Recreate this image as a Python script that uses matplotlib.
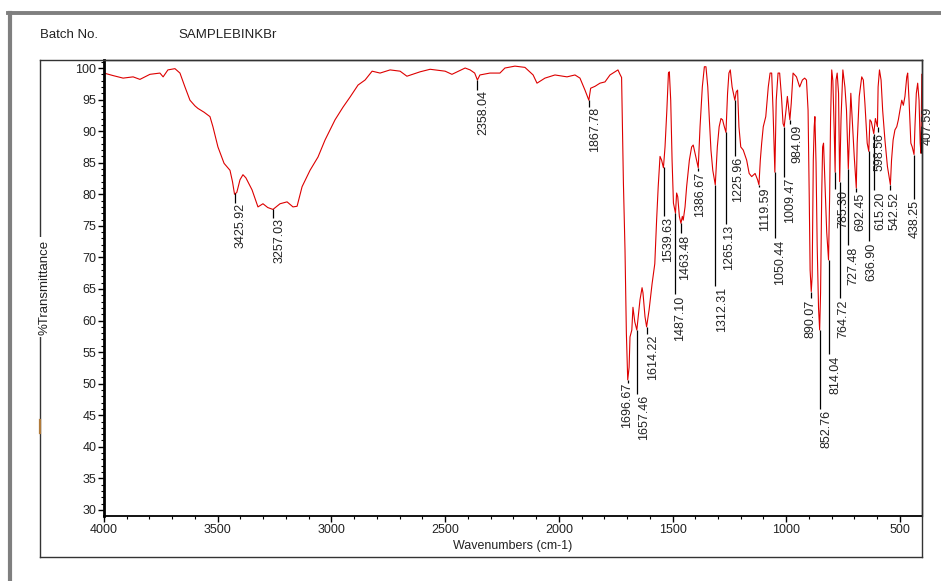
import matplotlib
matplotlib.use("Agg")
import matplotlib.pyplot as plt
from matplotlib.lines import Line2D
from matplotlib.ticker import MultipleLocator

plt.rcParams['font.family'] = ['Liberation Sans', 'DejaVu Sans']

# spectrum: wavenumber (cm-1) and %T
wavenumber = [
    4000, 3960, 3916, 3872, 3842, 3798, 3754, 3740, 3719, 3688, 3666, 3644,
    3622, 3600, 3587, 3560, 3534, 3521, 3499, 3472, 3446, 3435, 3426, 3416,
    3402, 3389, 3376, 3349, 3323, 3301, 3280, 3257, 3226, 3195, 3169, 3151,
    3129, 3094, 3059, 3028, 2984, 2949, 2918, 2883, 2852, 2821, 2786, 2742,
    2698, 2668, 2610, 2566, 2500, 2470, 2412, 2390, 2370, 2358, 2347, 2303,
    2259, 2237, 2193, 2149, 2113, 2096, 2061, 2017, 1964, 1929, 1907, 1885,
    1868, 1860, 1841, 1819, 1797, 1775, 1753, 1740, 1731, 1724, 1716, 1709,
    1703, 1697, 1691, 1687, 1679, 1674, 1666, 1657, 1643, 1634, 1630, 1621,
    1614, 1603, 1590, 1578, 1570, 1563, 1555, 1548, 1540, 1533, 1525, 1518,
    1514, 1508, 1502, 1496, 1487, 1482, 1477, 1470, 1463, 1457, 1453, 1445,
    1438, 1426, 1416, 1409, 1398, 1387, 1379, 1369, 1360, 1353, 1345, 1338,
    1331, 1323, 1312, 1303, 1295, 1287, 1280, 1273, 1265, 1258, 1252, 1246,
    1238, 1226, 1220, 1214, 1208, 1200, 1189, 1174, 1163, 1152, 1137, 1126,
    1120, 1114, 1108, 1101, 1090, 1079, 1071, 1064, 1058, 1050, 1044, 1036,
    1029, 1021, 1014, 1009, 1001, 995, 984, 978, 970, 955, 941, 929,
    919, 911, 904, 899, 895, 890, 886, 881, 877, 874, 869, 864,
    858, 853, 849, 844, 840, 836, 830, 822, 814, 809, 805, 800,
    795, 789, 785, 781, 776, 770, 765, 759, 751, 742, 735, 727,
    716, 708, 701, 692, 688, 679, 668, 661, 654, 649, 644, 637,
    632, 626, 615, 608, 599, 596, 590, 583, 576, 566, 555, 542,
    537, 530, 522, 514, 507, 500, 492, 485, 478, 470, 466, 460,
    452, 446, 438, 434, 428, 422, 416, 411, 407.6, 404,
]
transmittance = [
    99.2, 98.8, 98.4, 98.6, 98.2, 99.0, 99.2, 98.6, 99.7, 99.9, 99.2, 97.0,
    94.9, 94.0, 93.6, 93.0, 92.3, 90.7, 87.5, 84.9, 83.8, 82.0, 80.0, 80.3,
    82.3, 83.1, 82.6, 80.7, 78.0, 78.5, 77.9, 77.6, 78.5, 78.8, 78.0, 78.1,
    81.2, 83.8, 85.9, 88.6, 91.8, 93.8, 95.4, 97.3, 98.1, 99.5, 99.2, 99.7,
    99.5, 98.7, 99.4, 99.8, 99.5, 99.0, 100.0, 99.7, 99.2, 98.1, 98.9, 99.2,
    99.2, 100.0, 100.3, 100.1, 98.9, 97.6, 98.4, 98.9, 98.6, 98.9, 98.4, 96.5,
    94.9, 96.8, 97.1, 97.6, 97.8, 98.9, 99.4, 99.7, 99.0, 98.5, 81.8, 71.2,
    58.0, 50.6, 52.6, 57.4, 58.5, 62.1, 59.8, 58.5, 63.3, 65.2, 64.4, 60.6,
    59.0, 61.7, 65.8, 69.0, 75.9, 81.2, 86.0, 85.4, 84.2, 87.5, 93.3, 99.2,
    99.4, 94.9, 85.4, 78.6, 77.0, 80.2, 79.6, 76.5, 75.4, 76.5, 75.9, 78.0,
    81.2, 85.4, 87.5, 87.8, 86.0, 84.2, 90.7, 97.0, 100.2, 100.2, 97.0, 91.8,
    87.0, 83.8, 81.5, 87.5, 90.7, 92.0, 91.8, 90.8, 89.8, 96.0, 99.2, 99.7,
    97.0, 94.9, 96.2, 96.5, 90.7, 87.5, 87.0, 85.4, 83.3, 82.8, 83.3, 82.3,
    81.5, 85.4, 88.1, 90.7, 92.3, 97.0, 99.2, 99.2, 93.3, 83.5, 94.9, 99.2,
    99.2, 95.5, 91.2, 90.7, 93.3, 95.5, 91.8, 94.4, 99.2, 98.6, 97.0, 98.1,
    98.4, 98.1, 93.3, 80.0, 68.0, 64.6, 67.0, 85.4, 90.7, 92.3, 85.0, 72.0,
    62.0, 58.5, 64.4, 80.0, 87.5, 88.1, 82.0, 74.0, 69.6, 80.0, 92.0, 99.7,
    98.0, 90.0, 83.5, 98.1, 99.2, 96.0, 82.0, 92.0, 99.7, 97.0, 93.3, 84.0,
    96.0, 90.7, 86.0, 81.0, 88.1, 95.5, 98.6, 98.1, 94.4, 91.3, 88.1, 86.8,
    91.8, 91.5, 89.6, 92.0, 90.7, 97.0, 99.7, 98.1, 93.3, 88.6, 84.4, 81.5,
    85.4, 88.6, 90.2, 90.7, 91.8, 93.3, 94.9, 94.1, 95.5, 98.6, 99.2, 94.9,
    88.1, 87.5, 86.3, 90.7, 96.0, 97.6, 94.9, 88.1, 86.5, 99.0,
]

# peak picks
peak_labels = [
    '3425.92', '3257.03', '2358.04', '1867.78', '1696.67', '1657.46',
    '1614.22', '1539.63', '1487.10', '1463.48', '1386.67', '1312.31',
    '1265.13', '1225.96', '1119.59', '1050.44', '1009.47', '984.09',
    '890.07', '852.76', '814.04', '785.30', '764.72', '727.48',
    '692.45', '636.90', '615.20', '598.56', '542.52', '438.25', '407.59',
]
peak_pos = [float(s) for s in peak_labels]
# %T at the dip, and %T where the leader line stops / the text begins
peak_dip = [
    80.2, 77.6, 98.1, 94.9, 50.6, 58.5, 59.0, 84.4, 77.0, 75.4, 84.2, 81.5,
    89.8, 94.9, 81.5, 83.5, 90.7, 91.8, 64.6, 58.5, 69.6, 83.5, 82.0, 84.0,
    81.0, 86.8, 89.6, 90.7, 81.5, 86.3, 86.5,
]
leader_end = [
    78.6, 76.2, 96.5, 93.8, 50.1, 48.4, 57.9, 76.6, 64.2, 73.8, 83.7, 65.5,
    75.3, 86.1, 81.2, 73.0, 82.8, 91.2, 63.5, 46.0, 54.7, 80.9, 63.5, 71.9,
    80.4, 72.6, 80.6, 89.9, 80.6, 79.3, 90.2,
]
label_top = [
    78.6, 76.2, 96.5, 93.8, 50.1, 48.2, 57.7, 76.4, 64.0, 73.6, 83.5, 65.3,
    75.1, 85.9, 81.0, 72.8, 82.6, 91.0, 63.3, 45.8, 54.5, 80.7, 63.3, 71.7,
    80.2, 72.4, 80.4, 89.7, 80.4, 79.1, 93.8,
]
label_x = [
    3398, 3230, 2333, 1841, 1700, 1625, 1586, 1520, 1467, 1445, 1379, 1282,
    1252, 1212, 1093, 1027, 983, 953, 895, 821, 785, 750, 748, 706,
    675, 627, 588, 592, 522, 434, 376,
]

fig = plt.figure(figsize=(9.41, 5.81), dpi=100)
fig.patch.set_facecolor('white')

# grey scan border and the thin frame round the report
fig.add_artist(Line2D([8 / 941, 1], [0.9768, 0.9768], color='#7f7f7f', lw=2.8))
fig.add_artist(Line2D([10 / 941, 10 / 941], [0, 0.9768], color='#7f7f7f', lw=3.0))
bx0, bx1 = 40 / 941, 922 / 941
by0, by1 = (581 - 557) / 581, (581 - 60) / 581
for xs, ys in [([bx0, bx1], [by1, by1]), ([bx0, bx1], [by0, by0]),
               ([bx0, bx0], [by0, by1]), ([bx1, bx1], [by0, by1])]:
    fig.add_artist(Line2D(xs, ys, color='#333333', lw=1.0))
fig.add_artist(Line2D([bx0, bx0], [(581 - 433) / 581, (581 - 420) / 581],
                      color='#b07a3a', lw=1.6))

fig.text(40 / 941, (581 - 35) / 581, 'Batch No.', fontsize=9.5,
         va='center', ha='left', color='#222222')
fig.text(178 / 941, (581 - 35) / 581, 'SAMPLEBINKBr', fontsize=9.5,
         va='center', ha='left', color='#222222')
fig.text(45 / 941, (581 - 287) / 581, '%Transmittance', fontsize=9.5,
         rotation=90, va='center', ha='center', color='#222222',
         bbox=dict(facecolor='white', edgecolor='none', pad=1.5))

ax = fig.add_axes([104 / 941, (581 - 516) / 581, 818 / 941, 456 / 581])
ax.plot(wavenumber, transmittance, color='#dd0000', lw=0.8)

ax.vlines(peak_pos, leader_end, peak_dip, color='black', lw=0.9)
for lab, x, y in zip(peak_labels, label_x, label_top):
    ax.text(x, y, lab, rotation=90, ha='center', va='top', fontsize=9,
            color='#222222', clip_on=False)

ax.set_xlim(4000, 403)
ax.set_ylim(29.04, 101.27)
ax.xaxis.set_major_locator(MultipleLocator(500))
ax.xaxis.set_minor_locator(MultipleLocator(100))
ax.yaxis.set_major_locator(MultipleLocator(5))
ax.yaxis.set_minor_locator(MultipleLocator(1))
ax.set_xticks(range(500, 4001, 500))
ax.set_yticks(range(30, 101, 5))
ax.tick_params(which='major', direction='out', length=4, width=1,
               labelsize=9, labelcolor='#222222', pad=1.5)
ax.tick_params(which='minor', direction='out', length=2.5, width=0.8)

ax.spines['left'].set_linewidth(2.0)
ax.spines['bottom'].set_linewidth(1.3)
ax.spines['top'].set_linewidth(1.0)
ax.spines['right'].set_linewidth(1.0)
ax.spines['top'].set_color('#333333')
ax.spines['right'].set_color('#333333')

ax.set_xlabel('Wavenumbers (cm-1)', fontsize=9, color='#222222', labelpad=3)

fig.savefig('out.png', dpi=100)
